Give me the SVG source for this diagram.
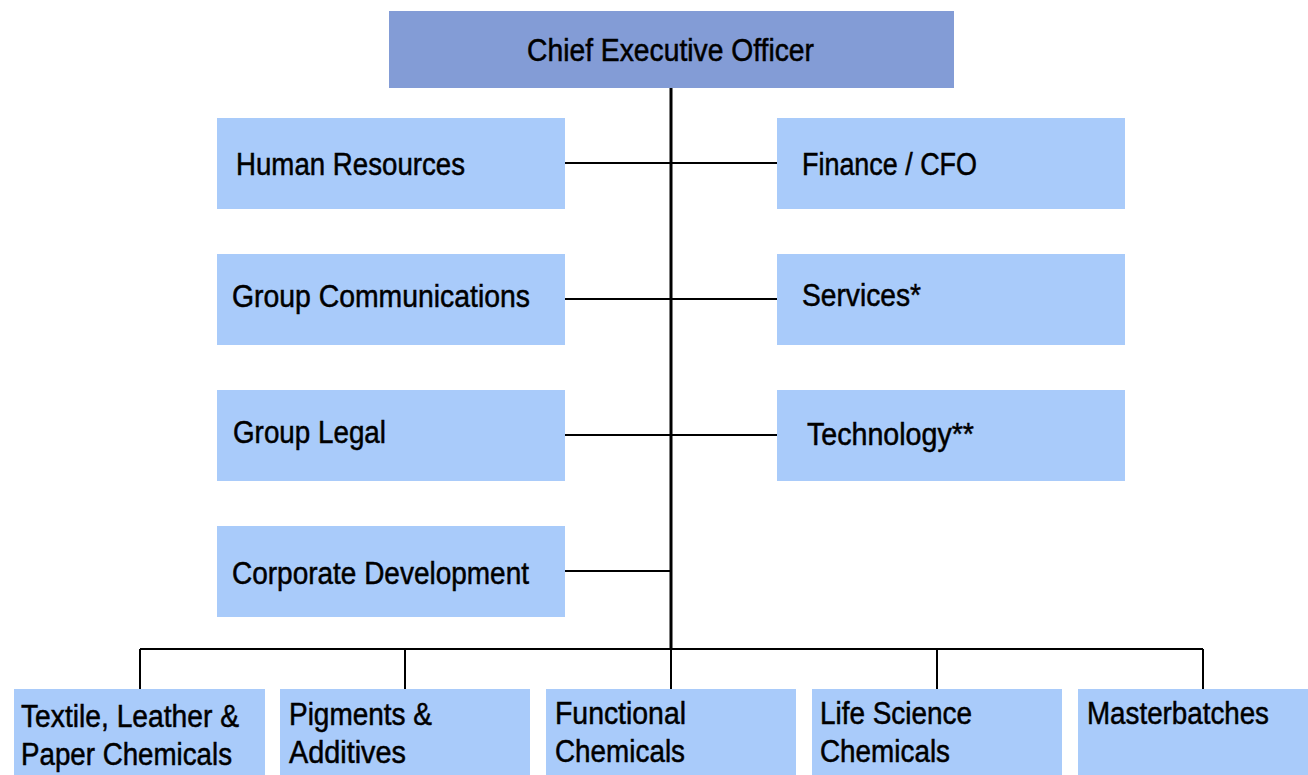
<svg xmlns="http://www.w3.org/2000/svg" width="1308" height="775" viewBox="0 0 1308 775">
  <style>
    .box { fill: #A9CBFA; }
    .top { fill: #839CD6; }
    .lbl { font-family: "Liberation Sans", Arial, sans-serif; font-size: 31px; fill: #000; stroke: #000; stroke-width: 0.5; }
    .trunk { stroke: #000; stroke-width: 3; fill: none; }
    .link { stroke: #000; stroke-width: 2; fill: none; }
  </style>
  <rect width="1308" height="775" fill="#fff"/>

  <!-- connectors -->
  <g id="connectors">
    <line class="trunk" x1="671" y1="88" x2="671" y2="650"/>
    <line class="link" x1="565" y1="163" x2="777" y2="163"/>
    <line class="link" x1="565" y1="299" x2="777" y2="299"/>
    <line class="link" x1="565" y1="435" x2="777" y2="435"/>
    <line class="link" x1="565" y1="571" x2="671" y2="571"/>
    <line class="link" x1="140" y1="649" x2="1203" y2="649"/>
    <line class="link" x1="140" y1="649" x2="140" y2="689"/>
    <line class="link" x1="405" y1="649" x2="405" y2="689"/>
    <line class="link" x1="671" y1="649" x2="671" y2="689"/>
    <line class="link" x1="937" y1="649" x2="937" y2="689"/>
    <line class="link" x1="1203" y1="649" x2="1203" y2="689"/>
  </g>

  <g id="ceo">
    <rect class="top" x="389" y="11" width="565" height="77"/>
    <text class="lbl" x="527" y="61" textLength="287" lengthAdjust="spacingAndGlyphs">Chief Executive Officer</text>
  </g>

  <g id="human-resources">
    <rect class="box" x="217" y="118" width="348" height="91"/>
    <text class="lbl" x="236" y="175" textLength="229" lengthAdjust="spacingAndGlyphs">Human Resources</text>
  </g>
  <g id="finance">
    <rect class="box" x="777" y="118" width="348" height="91"/>
    <text class="lbl" x="802" y="175" textLength="175" lengthAdjust="spacingAndGlyphs">Finance / CFO</text>
  </g>
  <g id="group-communications">
    <rect class="box" x="217" y="254" width="348" height="91"/>
    <text class="lbl" x="232" y="307" textLength="298" lengthAdjust="spacingAndGlyphs">Group Communications</text>
  </g>
  <g id="services">
    <rect class="box" x="777" y="254" width="348" height="91"/>
    <text class="lbl" x="802" y="306" textLength="119" lengthAdjust="spacingAndGlyphs">Services*</text>
  </g>
  <g id="group-legal">
    <rect class="box" x="217" y="390" width="348" height="91"/>
    <text class="lbl" x="233" y="443" textLength="153" lengthAdjust="spacingAndGlyphs">Group Legal</text>
  </g>
  <g id="technology">
    <rect class="box" x="777" y="390" width="348" height="91"/>
    <text class="lbl" x="807" y="445" textLength="167" lengthAdjust="spacingAndGlyphs">Technology**</text>
  </g>
  <g id="corporate-development">
    <rect class="box" x="217" y="526" width="348" height="91"/>
    <text class="lbl" x="232" y="584" textLength="297" lengthAdjust="spacingAndGlyphs">Corporate Development</text>
  </g>

  <g id="textile">
    <rect class="box" x="14" y="689" width="251" height="86"/>
    <text class="lbl" x="21" y="727" textLength="218" lengthAdjust="spacingAndGlyphs">Textile, Leather &amp;</text>
    <text class="lbl" x="21" y="765" textLength="211" lengthAdjust="spacingAndGlyphs">Paper Chemicals</text>
  </g>
  <g id="pigments">
    <rect class="box" x="280" y="689" width="250" height="86"/>
    <text class="lbl" x="289" y="725" textLength="143" lengthAdjust="spacingAndGlyphs">Pigments &amp;</text>
    <text class="lbl" x="289" y="763" textLength="117" lengthAdjust="spacingAndGlyphs">Additives</text>
  </g>
  <g id="functional">
    <rect class="box" x="546" y="689" width="250" height="86"/>
    <text class="lbl" x="555" y="724" textLength="131" lengthAdjust="spacingAndGlyphs">Functional</text>
    <text class="lbl" x="555" y="762" textLength="130" lengthAdjust="spacingAndGlyphs">Chemicals</text>
  </g>
  <g id="life-science">
    <rect class="box" x="812" y="689" width="250" height="86"/>
    <text class="lbl" x="820" y="724" textLength="152" lengthAdjust="spacingAndGlyphs">Life Science</text>
    <text class="lbl" x="820" y="762" textLength="130" lengthAdjust="spacingAndGlyphs">Chemicals</text>
  </g>
  <g id="masterbatches">
    <rect class="box" x="1078" y="689" width="230" height="86"/>
    <text class="lbl" x="1087" y="724" textLength="182" lengthAdjust="spacingAndGlyphs">Masterbatches</text>
  </g>
</svg>
